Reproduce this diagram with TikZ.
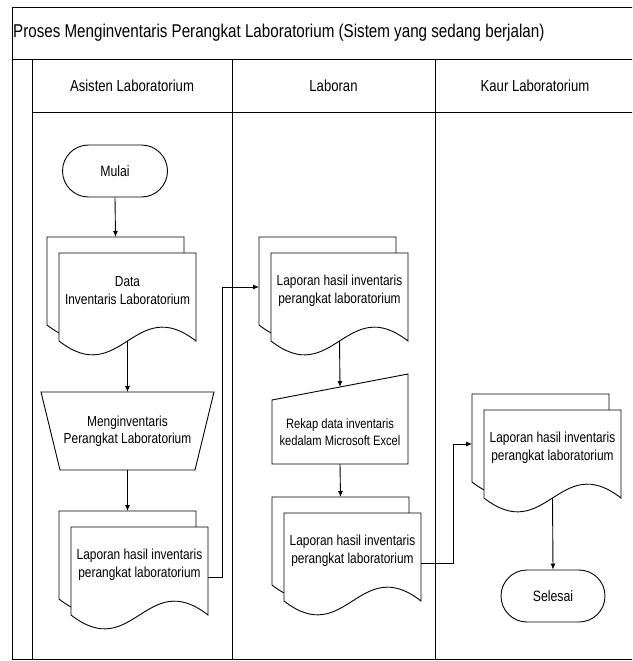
\documentclass[tikz,border=0pt]{standalone}
\usepackage{fontspec}
\setmainfont[FakeStretch=0.82]{Liberation Sans}
\usetikzlibrary{arrows.meta,calc}
\tikzset{
  ln/.style={draw=black, line width=0.9pt},
  shp/.style={draw=black, line width=0.9pt, fill=white},
  arr/.style={draw=black, -{Latex[length=6pt,width=5pt]}, line width=0.9pt},
  geo/.style={draw=none, inner sep=0pt, outer sep=0pt},
  txt/.style={align=center, font=\fontsize{14.5}{18}\selectfont, inner sep=0pt},
  term/.style={draw=black, line width=0.9pt, rounded corners=26pt, minimum width=105pt, minimum height=52pt, inner sep=0pt, font=\fontsize{15}{18}\selectfont},
  hdr/.style={font=\fontsize{16}{19}\selectfont, inner sep=0pt},
}
\newcommand\docdraw[2]{\draw[shp] (#1,#2) -- (#1+137,#2) -- (#1+137,#2+88) .. controls (#1+75.35,#2+40) and (#1+61.65,#2+136) .. (#1,#2+88) -- cycle;}
\newcommand\mdoc[4]{%
  \docdraw{#2}{#3}
  \docdraw{#2+12}{#3+16}
  \node[geo, minimum width=137pt, minimum height=88pt] (#1-b) at (#2+68.5,#3+44) {};
  \node[geo, minimum width=137pt, minimum height=88pt] (#1) at (#2+80.5,#3+60) {};
  \node[txt] (#1-t) at (#2+80.5,#3+54) {#4};
}
\begin{document}
\begin{tikzpicture}[x=1pt,y=-1pt]
\useasboundingbox (0,0) rectangle (632,661);
\clip (0,0) rectangle (632,661);
% frame
\draw[ln] (12,7.5) rectangle (645,659);
\draw[ln] (12,59) -- (645,59);
\draw[ln] (32,112) -- (645,112);
\draw[ln] (32,59) -- (32,659);
\draw[ln] (232,59) -- (232,659);
\draw[ln] (435,59) -- (435,659);
\node[anchor=west, font=\fontsize{18.5}{22}\selectfont, inner sep=0pt] (title) at (13,33) {Proses Menginventaris Perangkat Laboratorium (Sistem yang sedang berjalan)};
\node[hdr] (h1) at (132,86) {Asisten Laboratorium};
\node[hdr] (h2) at (333.5,86) {Laboran};
\node[hdr] (h3) at (535,86) {Kaur Laboratorium};
% lane 1
\node[term] (mulai) at (115,171) {Mulai};
\mdoc{d1}{47}{237}{Data\\Inventaris Laboratorium}
\node[geo, txt, font=\fontsize{14.5}{17}\selectfont, minimum width=173pt, minimum height=78pt] (trap) at (127.5,431) {Menginventaris\\Perangkat Laboratorium};
\draw[ln] (trap.north west) -- (trap.north east) -- ([xshift=-19pt]trap.south east) -- ([xshift=19pt]trap.south west) -- cycle;
\mdoc{d3}{59}{511}{Laporan hasil inventaris\\perangkat laboratorium}
% lane 2
\mdoc{d4}{259}{237}{Laporan hasil inventaris\\perangkat laboratorium}
\node[geo, minimum width=136pt, minimum height=90pt] (rk) at (340,419) {};
\draw[ln] (rk.south west) -- ([yshift=-26pt]rk.north west) -- (rk.north east) -- (rk.south east) -- cycle;
\coordinate (rk-in) at ($([yshift=-26pt]rk.north west)!0.5!(rk.north east)$);
\node[txt, font=\fontsize{13.6}{17}\selectfont] (rk-t) at (340,432.5) {Rekap data inventaris\\kedalam Microsoft Excel};
\mdoc{d5}{272}{497}{Laporan hasil inventaris\\perangkat laboratorium}
% lane 3
\mdoc{d6}{472}{394}{Laporan hasil inventaris\\perangkat laboratorium}
\node[term, minimum width=104pt] (sel) at (553,596) {Selesai};
% connectors
\draw[arr] (mulai.south) -- (d1-b.north);
\draw[arr] (d1.south) -- (trap.north);
\draw[arr] (trap.south) -- (d3-b.north);
\draw[arr] ([yshift=-6pt]d3.east) -- ++(14,0) |- ([yshift=-6pt]d4-b.west);
\draw[arr] (d4.south) -- (rk-in);
\draw[arr] (rk.south) -- (d5-b.north);
\draw[arr] ([yshift=-6pt]d5.east) -- ++(32,0) |- ([yshift=-6pt]d6-b.west);
\draw[arr] (d6.south) -- (sel.north);
\end{tikzpicture}
\end{document}
